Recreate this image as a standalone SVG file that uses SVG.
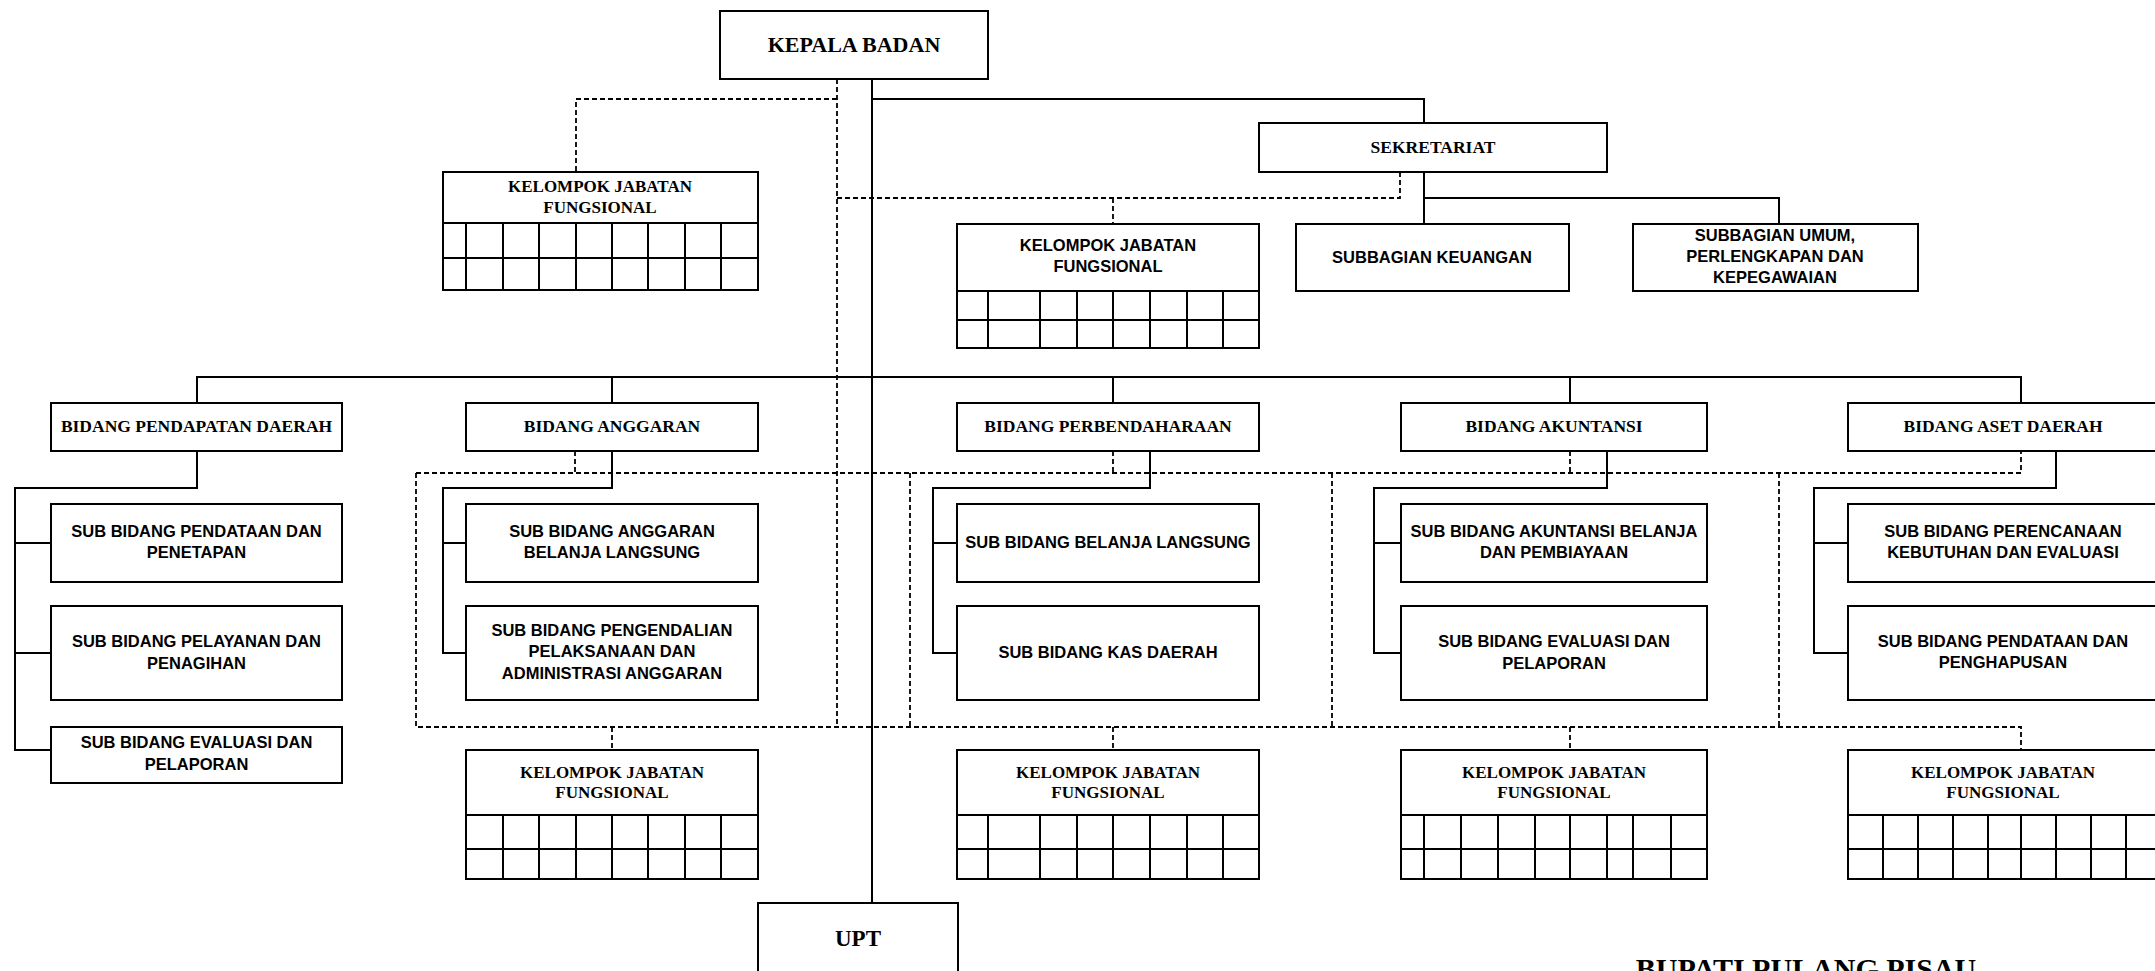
<svg xmlns="http://www.w3.org/2000/svg" width="2155" height="971" viewBox="0 0 2155 971">
<style>
.box{fill:#fff;stroke:#000;stroke-width:2}
.ln{fill:none;stroke:#000;stroke-width:2}
.gl{fill:none;stroke:#000;stroke-width:2}
.dl{fill:none;stroke:#000;stroke-width:1.8;stroke-dasharray:5 3}
.sf{font-family:"Liberation Serif","Times New Roman",serif;font-weight:bold;text-anchor:middle;fill:#000;font-size:17.5px}
.ss{font-family:"Liberation Sans",Arial,sans-serif;font-weight:bold;text-anchor:middle;fill:#000;font-size:16.5px}
</style>
<rect width="2155" height="971" fill="#fff"/>
<g id="connectors">
<path class="ln" d="M872,79 V903"/>
<path class="ln" d="M872,99 H1424 V123"/>
<path class="ln" d="M1424,172 V224"/>
<path class="ln" d="M1424,198 H1779 V224"/>
<path class="ln" d="M197,403 V377 H2021 V403"/>
<path class="ln" d="M612,377 V403 M1113,377 V403 M1570,377 V403"/>
<path class="ln" d="M197,451 V488 H15 V750 H51 M15,543 H51 M15,653 H51"/>
<path class="ln" d="M612,451 V488 H443 V653 H466 M443,543 H466"/>
<path class="ln" d="M1150,451 V488 H933 V653 H958 M933,543 H958"/>
<path class="ln" d="M1607,451 V488 H1374 V653 H1401 M1374,543 H1401"/>
<path class="ln" d="M2056,451 V488 H1814 V653 H1848 M1814,543 H1848"/>
<path class="dl" d="M837,79 V727"/>
<path class="dl" d="M837,99 H576 V172"/>
<path class="dl" d="M837,198 H1400 V172"/>
<path class="dl" d="M1113,198 V224"/>
<path class="dl" d="M416,473 H2021 V451"/>
<path class="dl" d="M416,473 V727 H2021 V750"/>
<path class="dl" d="M575,451 V473 M1113,451 V473 M1570,451 V473"/>
<path class="dl" d="M910,473 V727 M1332,473 V727 M1779,473 V727"/>
<path class="dl" d="M612,727 V750 M1113,727 V750 M1570,727 V750"/>
</g>
<g id="kepala-badan">
<rect class="box" x="720" y="11" width="268" height="68"/>
<text class="sf" x="854" y="52" style="font-size:22px">KEPALA BADAN</text>
</g>
<g id="sekretariat">
<rect class="box" x="1259" y="123" width="348" height="49"/>
<text class="sf" x="1433" y="153">SEKRETARIAT</text>
</g>
<g id="subbagian-keuangan">
<rect class="box" x="1296" y="224" width="273" height="67"/>
<text class="ss" x="1432" y="263">SUBBAGIAN KEUANGAN</text>
</g>
<g id="subbagian-umum">
<rect class="box" x="1633" y="224" width="285" height="67"/>
<text class="ss" x="1775" y="241">SUBBAGIAN UMUM,</text>
<text class="ss" x="1775" y="262">PERLENGKAPAN DAN</text>
<text class="ss" x="1775" y="283">KEPEGAWAIAN</text>
</g>
<g id="kjf-kepala">
<rect class="box" x="443" y="172" width="315" height="118"/>
<path class="gl" d="M443,223 H758 M443,258 H758 M466,223 V290 M503,223 V290 M539,223 V290 M576,223 V290 M612,223 V290 M648,223 V290 M685,223 V290 M721,223 V290"/>
<text class="sf" x="600" y="192" style="font-size:17px">KELOMPOK JABATAN</text>
<text class="sf" x="600" y="213" style="font-size:17px">FUNGSIONAL</text>
</g>
<g id="kjf-sekretariat">
<rect class="box" x="957" y="224" width="302" height="124"/>
<path class="gl" d="M957,291 H1259 M957,320 H1259 M988,291 V348 M1040,291 V348 M1077,291 V348 M1113,291 V348 M1150,291 V348 M1187,291 V348 M1223,291 V348"/>
<text class="ss" x="1108" y="251">KELOMPOK JABATAN</text>
<text class="ss" x="1108" y="272">FUNGSIONAL</text>
</g>
<g id="bidang-pendapatan">
<rect class="box" x="51" y="403" width="291" height="48"/>
<text class="sf" x="196.5" y="432">BIDANG PENDAPATAN DAERAH</text>
</g>
<g id="bidang-anggaran">
<rect class="box" x="466" y="403" width="292" height="48"/>
<text class="sf" x="612" y="432">BIDANG ANGGARAN</text>
</g>
<g id="bidang-perbendaharaan">
<rect class="box" x="957" y="403" width="302" height="48"/>
<text class="sf" x="1108" y="432">BIDANG PERBENDAHARAAN</text>
</g>
<g id="bidang-akuntansi">
<rect class="box" x="1401" y="403" width="306" height="48"/>
<text class="sf" x="1554" y="432">BIDANG AKUNTANSI</text>
</g>
<g id="bidang-aset">
<rect class="box" x="1848" y="403" width="312" height="48"/>
<text class="sf" x="2003" y="432">BIDANG ASET DAERAH</text>
</g>
<g id="sub-pendataan-penetapan">
<rect class="box" x="51" y="504" width="291" height="78"/>
<text class="ss" x="196.5" y="537">SUB BIDANG PENDATAAN DAN</text>
<text class="ss" x="196.5" y="558">PENETAPAN</text>
</g>
<g id="sub-pelayanan">
<rect class="box" x="51" y="606" width="291" height="94"/>
<text class="ss" x="196.5" y="647">SUB BIDANG PELAYANAN DAN</text>
<text class="ss" x="196.5" y="669">PENAGIHAN</text>
</g>
<g id="sub-evaluasi-pendapatan">
<rect class="box" x="51" y="727" width="291" height="56"/>
<text class="ss" x="196.5" y="748">SUB BIDANG EVALUASI DAN</text>
<text class="ss" x="196.5" y="770">PELAPORAN</text>
</g>
<g id="sub-anggaran-belanja">
<rect class="box" x="466" y="504" width="292" height="78"/>
<text class="ss" x="612" y="537">SUB BIDANG ANGGARAN</text>
<text class="ss" x="612" y="558">BELANJA LANGSUNG</text>
</g>
<g id="sub-pengendalian">
<rect class="box" x="466" y="606" width="292" height="94"/>
<text class="ss" x="612" y="636">SUB BIDANG PENGENDALIAN</text>
<text class="ss" x="612" y="657">PELAKSANAAN DAN</text>
<text class="ss" x="612" y="679">ADMINISTRASI ANGGARAN</text>
</g>
<g id="sub-belanja-langsung">
<rect class="box" x="957" y="504" width="302" height="78"/>
<text class="ss" x="1108" y="548">SUB BIDANG BELANJA LANGSUNG</text>
</g>
<g id="sub-kas-daerah">
<rect class="box" x="957" y="606" width="302" height="94"/>
<text class="ss" x="1108" y="658">SUB BIDANG KAS DAERAH</text>
</g>
<g id="sub-akuntansi-belanja">
<rect class="box" x="1401" y="504" width="306" height="78"/>
<text class="ss" x="1554" y="537">SUB BIDANG AKUNTANSI BELANJA</text>
<text class="ss" x="1554" y="558">DAN PEMBIAYAAN</text>
</g>
<g id="sub-evaluasi-akuntansi">
<rect class="box" x="1401" y="606" width="306" height="94"/>
<text class="ss" x="1554" y="647">SUB BIDANG EVALUASI DAN</text>
<text class="ss" x="1554" y="669">PELAPORAN</text>
</g>
<g id="sub-perencanaan">
<rect class="box" x="1848" y="504" width="312" height="78"/>
<text class="ss" x="2003" y="537">SUB BIDANG PERENCANAAN</text>
<text class="ss" x="2003" y="558">KEBUTUHAN DAN EVALUASI</text>
</g>
<g id="sub-penghapusan">
<rect class="box" x="1848" y="606" width="312" height="94"/>
<text class="ss" x="2003" y="647">SUB BIDANG PENDATAAN DAN</text>
<text class="ss" x="2003" y="668">PENGHAPUSAN</text>
</g>
<g id="kjf-anggaran">
<rect class="box" x="466" y="750" width="292" height="129"/>
<path class="gl" d="M466,815 H758 M466,849 H758 M503,815 V879 M539,815 V879 M576,815 V879 M612,815 V879 M648,815 V879 M685,815 V879 M721,815 V879"/>
<text class="sf" x="612" y="778" style="font-size:17px">KELOMPOK JABATAN</text>
<text class="sf" x="612" y="798" style="font-size:17px">FUNGSIONAL</text>
</g>
<g id="kjf-perbendaharaan">
<rect class="box" x="957" y="750" width="302" height="129"/>
<path class="gl" d="M957,815 H1259 M957,849 H1259 M988,815 V879 M1040,815 V879 M1077,815 V879 M1113,815 V879 M1150,815 V879 M1187,815 V879 M1223,815 V879"/>
<text class="sf" x="1108" y="778" style="font-size:17px">KELOMPOK JABATAN</text>
<text class="sf" x="1108" y="798" style="font-size:17px">FUNGSIONAL</text>
</g>
<g id="kjf-akuntansi">
<rect class="box" x="1401" y="750" width="306" height="129"/>
<path class="gl" d="M1401,815 H1707 M1401,849 H1707 M1424,815 V879 M1461,815 V879 M1498,815 V879 M1535,815 V879 M1570,815 V879 M1607,815 V879 M1633,815 V879 M1671,815 V879"/>
<text class="sf" x="1554" y="778" style="font-size:17px">KELOMPOK JABATAN</text>
<text class="sf" x="1554" y="798" style="font-size:17px">FUNGSIONAL</text>
</g>
<g id="kjf-aset">
<rect class="box" x="1848" y="750" width="312" height="129"/>
<path class="gl" d="M1848,815 H2160 M1848,849 H2160 M1883,815 V879 M1918,815 V879 M1953,815 V879 M1988,815 V879 M2021,815 V879 M2056,815 V879 M2091,815 V879 M2126,815 V879"/>
<text class="sf" x="2003" y="778" style="font-size:17px">KELOMPOK JABATAN</text>
<text class="sf" x="2003" y="798" style="font-size:17px">FUNGSIONAL</text>
</g>
<g id="upt">
<rect class="box" x="758" y="903" width="200" height="80"/>
<text class="sf" x="858" y="946" style="font-size:23px">UPT</text>
</g>
<g id="signature">
<text class="sf" x="1806" y="979" style="font-size:30px">BUPATI PULANG PISAU</text>
</g>
</svg>
